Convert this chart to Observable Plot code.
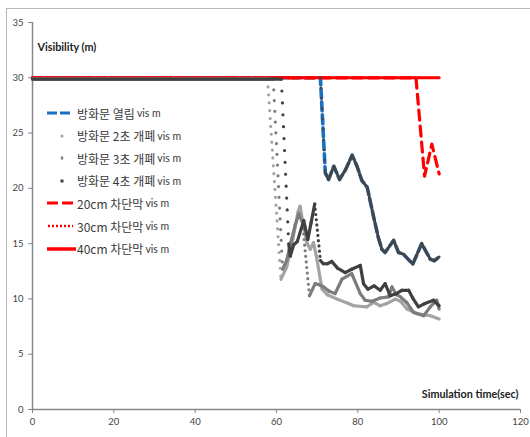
<!DOCTYPE html>
<html><head><meta charset="utf-8">
<script src="https://cdn.jsdelivr.net/npm/d3@7"></script>
<script src="https://cdn.jsdelivr.net/npm/@observablehq/plot@0.6"></script>
<style>
body{margin:0;background:#fff;}
#wrap{position:relative;width:530px;height:437px;overflow:hidden;background:#fff;}
#border{position:absolute;left:6px;top:8px;width:620px;height:620px;border:1.5px solid #b8b8b8;box-sizing:border-box;}
#chart{position:absolute;left:0;top:0;}
#legend{position:absolute;left:0;top:0;font-family:"Noto Sans CJK KR","Noto Sans";color:#3a3a3a;}
.item{position:absolute;left:45px;height:20px;display:flex;align-items:center;white-space:nowrap;}
.lab{font-size:12px;}
.unit{font-size:10.5px;margin-left:2px;font-family:"Lato","Noto Sans";}
</style></head>
<body>
<div id="wrap"><div id="border"></div><div id="chart"></div><div id="legend"></div></div>
<script>
const xTicks = [0, 20, 40, 60, 80, 100, 120];
const yTicks = [0, 5, 10, 15, 20, 25, 30, 35];
const legendLabels = ["방화문 열림", "방화문 2초 개폐", "방화문 3초 개폐", "방화문 4초 개폐", "20cm 차단막", "30cm 차단막", "40cm 차단막"];
const unitLabel = "vis m";
const yTitle = "Visibility (m)";
const xTitle = "Simulation time(sec)";

// [time (s), visibility (m)]
const doorOpen = [[0,30],[70.8,30],[72.0,21.4],[72.8,20.8],[74.1,22.0],[75.5,20.8],[77.0,21.7],[78.6,23.0],[79.8,22.0],[81.0,20.7],[82.3,20.1],[83.9,17.4],[85.0,15.6],[85.9,14.5],[86.7,14.2],[88.8,15.3],[90.0,14.2],[91.2,14.05],[93.5,13.15],[95.7,15.0],[97.8,13.6],[98.8,13.45],[100,13.8]];
const door2s = [[0,30],[57.8,30],[61.1,11.9],[62.5,13.0],[64.0,15.5],[65.3,18.0],[65.8,18.5],[66.5,17.0],[67.5,15.2],[68.3,14.6],[69.1,15.2],[69.8,14.0],[71.2,11.0],[72.5,10.5],[74.9,10.1],[77.7,9.7],[79.0,9.5],[82.2,9.4],[83.9,9.8],[85.5,9.5],[87.1,9.7],[89.2,10.1],[90.5,9.9],[92.1,9.2],[94.5,8.8],[97.8,8.6],[100,8.3]];
const door3s = [[0,30],[59.2,30],[61.5,12.8],[62.5,13.6],[63.5,15.2],[64.6,16.8],[65.5,17.8],[66.4,17.0],[68.1,10.4],[69.5,11.5],[70.5,11.4],[71.6,11.2],[73.0,10.8],[74.4,10.6],[76.1,11.9],[78.5,12.4],[80.6,10.6],[81.8,10.0],[83.5,9.9],[85.5,10.2],[87.5,10.3],[88.4,11.2],[89.5,10.5],[90.5,10.3],[92.0,9.8],[93.7,8.9],[96.2,8.6],[97.8,9.4],[99.4,10.0],[100,9.2]];
const door4s = [[0,30],[61.2,30],[63.0,15.1],[63.4,14.0],[64.2,15.0],[65.1,15.3],[66.7,17.2],[67.7,15.5],[68.5,17.0],[69.4,18.7],[70.8,13.6],[71.5,13.3],[72.5,13.3],[73.6,13.5],[75.0,12.9],[76.9,12.5],[78.5,12.8],[80.6,13.15],[81.4,11.5],[82.5,11.0],[84.0,11.3],[85.5,10.9],[86.7,11.5],[88.0,10.4],[89.5,10.6],[90.8,10.9],[92.5,10.9],[93.5,10.2],[94.9,9.4],[96.5,9.7],[98.6,10.0],[100,9.5]];
const curtain20 = [[0,30],[94.3,30],[96.4,21.1],[98.2,24.0],[100,21.3]];
const curtain30 = [[0,30],[100,30]];
const curtain40 = [[0,30],[100,30]];

const colors = {blue:"#1a6fc0", light:"#a3a3a3", mid:"#7c7c7c", dark:"#404040", red:"#ff0000"};

const W = 530, H = 437, mL = 32, mR = 10, mT = 22, mB = 28;
const sx = d3.scaleLinear([0,120],[mL, W-mR]);
const sy = d3.scaleLinear([0,35],[H-mB, mT]);

const toRows = s => s.map(([t,v]) => ({t, v}));
function segments(s){
  const out = [];
  for (let i = 0; i < s.length-1; i++){
    const [t1,v1] = s[i], [t2,v2] = s[i+1];
    const steep = Math.abs((v2-v1)/(t2-t1)) > 3.2;
    const len = Math.hypot(sx(t2)-sx(t1), sy(v2)-sy(v1));
    out.push({t1,v1,t2,v2,steep,len,dt:t2-t1});
  }
  return out;
}
// Excel-like marker series: dense markers merge into a line, separate on steep drops
function markerSeries(s, color, width, opts = {}){
  const segs = segments(s).filter(d => !(opts.skipPlateau && d.v1 === 30 && d.v2 === 30));
  const marks = [Plot.link(segs.filter(d => !d.steep), {x1:"t1", y1:"v1", x2:"t2", y2:"v2", stroke:color, strokeWidth:width, strokeLinecap:"round", dy:opts.dy||0})];
  for (const d of segs.filter(d => d.steep)){
    const sp = Math.max(4, d.len * 0.13 / d.dt);
    marks.push(Plot.link([d], {x1:"t1", y1:"v1", x2:"t2", y2:"v2", stroke:color, strokeWidth:width, strokeLinecap:"round", strokeDasharray:`0,${sp.toFixed(2)}`, dy:opts.dy||0}));
  }
  return marks;
}

const plot = Plot.plot({
  width: W, height: H,
  marginLeft: mL, marginRight: mR, marginTop: mT, marginBottom: mB,
  x: {domain:[0,120]},
  y: {domain:[0,35]},
  style: {fontFamily:"Lato, 'Noto Sans', sans-serif", fontSize:"9.5px", background:"transparent"},
  marks: [
    Plot.axisX({ticks: xTicks, tickSize:4, tickPadding:5, stroke:"#868686", fill:"#444", label:null}),
    Plot.axisY({ticks: yTicks, tickSize:4, tickPadding:5, stroke:"#868686", fill:"#444", label:null}),
    Plot.ruleX([0], {stroke:"#868686", strokeWidth:1.5}),
    Plot.ruleY([0], {stroke:"#868686", strokeWidth:1.5}),
    Plot.line(toRows(doorOpen), {x:"t", y:"v", stroke:colors.blue, strokeWidth:3.6, strokeDasharray:"9,4"}),
    Plot.line(toRows(curtain20), {x:"t", y:"v", stroke:colors.red, strokeWidth:3.2, strokeDasharray:"10,6"}),
    Plot.line(toRows(curtain30), {x:"t", y:"v", stroke:colors.red, strokeWidth:2.6, strokeDasharray:"0,4.5", strokeLinecap:"round"}),
    Plot.line(toRows(curtain40), {x:"t", y:"v", stroke:colors.red, strokeWidth:3}),
    ...markerSeries(door2s, colors.light, 3.2, {dy:1.3}),
    ...markerSeries(door3s, colors.mid, 3.2, {dy:1.3}),
    ...markerSeries(door4s, colors.dark, 3.2, {dy:1.3}),
    ...markerSeries(doorOpen, "#454545", 2.8, {skipPlateau:true}),
    Plot.text([yTitle], {frameAnchor:"top-left", dx:5, dy:21, textAnchor:"start", fontWeight:"bold", fontSize:10.8, fill:"#222"}),
    Plot.text([xTitle], {frameAnchor:"bottom-right", dx:-2, dy:-12, textAnchor:"end", lineAnchor:"bottom", fontWeight:"bold", fontSize:10.8, fill:"#222"})
  ]
});
document.getElementById("chart").appendChild(plot);

const symbols = [
  `<line x1="2" x2="28" y1="5" y2="5" stroke="${colors.blue}" stroke-width="3" stroke-dasharray="10,3"/>`,
  `<circle cx="17" cy="5" r="1.5" fill="${colors.light}"/>`,
  `<rect x="15.8" y="3.5" width="2.4" height="3" fill="${colors.mid}"/>`,
  `<rect x="15.5" y="3.5" width="3" height="3" fill="${colors.dark}"/>`,
  `<line x1="2" x2="29" y1="5" y2="5" stroke="${colors.red}" stroke-width="3" stroke-dasharray="11,4"/>`,
  `<line x1="3" x2="28" y1="5" y2="5" stroke="${colors.red}" stroke-width="2.4" stroke-dasharray="2,2"/>`,
  `<line x1="2" x2="31" y1="5" y2="5" stroke="${colors.red}" stroke-width="3.5"/>`
];
const leg = document.getElementById("legend");
legendLabels.forEach((lab, i) => {
  const div = document.createElement("div");
  div.className = "item";
  div.style.top = (113 + i*22.6 - 10) + "px";
  div.innerHTML = `<svg width="32" height="10" style="flex:none">${symbols[i]}</svg><span class="lab">${lab}</span><span class="unit">${unitLabel}</span>`;
  leg.appendChild(div);
});
</script>
</body></html>
